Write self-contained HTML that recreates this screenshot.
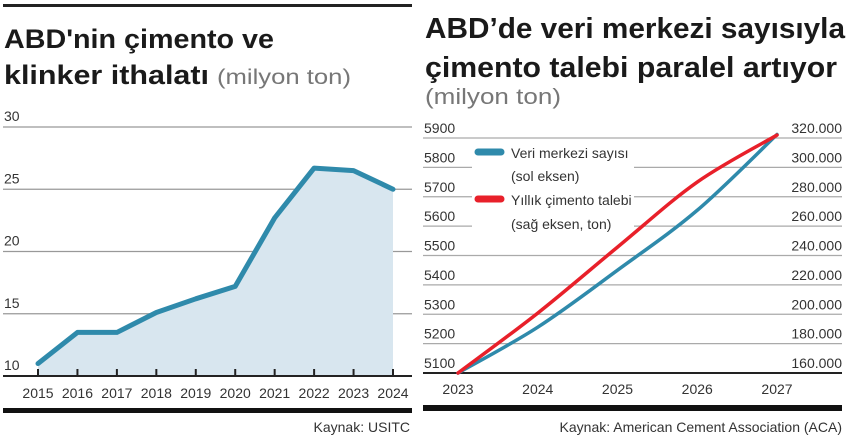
<!DOCTYPE html>
<html><head><meta charset="utf-8"><style>
html,body{margin:0;padding:0;background:#fff;}
svg{display:block;font-family:"Liberation Sans",sans-serif;}
.tick{font-family:"Liberation Sans Narrow","Liberation Sans",sans-serif;font-size:14px;fill:#333;}
.ttl{font-weight:bold;fill:#1a1a1a;}
</style></head><body>
<svg id="c" width="850" height="442" viewBox="0 0 850 442">
<rect x="3" y="4" width="409" height="3" fill="#222"/>
<text class="ttl" x="4" y="48" font-size="27" textLength="270" lengthAdjust="spacingAndGlyphs">ABD'nin çimento ve</text>
<text class="ttl" x="4" y="84" font-size="27" textLength="205" lengthAdjust="spacingAndGlyphs">klinker ithalatı</text>
<text x="217" y="84" font-size="21" fill="#777" textLength="134" lengthAdjust="spacingAndGlyphs">(milyon ton)</text>
<text class="ttl" x="425" y="38" font-size="29" textLength="420" lengthAdjust="spacingAndGlyphs">ABD’de veri merkezi sayısıyla</text>
<text class="ttl" x="425" y="77" font-size="29" textLength="412" lengthAdjust="spacingAndGlyphs">çimento talebi paralel artıyor</text>
<text x="425" y="104" font-size="22" fill="#777" textLength="136" lengthAdjust="spacingAndGlyphs">(milyon ton)</text>
<g id="left"></g>
<g id="right"></g>
</svg>
<script>
const leftYears=[2015,2016,2017,2018,2019,2020,2021,2022,2023,2024];
const leftValues=[11.0,13.5,13.5,15.1,16.2,17.2,22.7,26.7,26.5,25.0];
const leftTicks=[10,15,20,25,30];
const rightYears=[2023,2024,2025,2026,2027];
const dataCenters=[5100,5256,5450,5654,5912];
const cementDemand=[160000,200800,245700,290000,322000];
const rightLeftTicks=[5100,5200,5300,5400,5500,5600,5700,5800,5900];
const rightRightTicks=[160000,180000,200000,220000,240000,260000,280000,300000,320000];
const NS='http://www.w3.org/2000/svg';
function mk(p,tag,at){const e=document.createElementNS(NS,tag);for(const k in at)e.setAttribute(k,at[k]);p.appendChild(e);return e;}
// LEFT
const L=document.getElementById('left');
const lx=i=>38+i*(393-38)/(leftYears.length-1);
const ly=v=>376-(v-10)*(376-127)/20;
leftTicks.forEach(t=>{
 if(t>10){const g=mk(L,'line',{x1:3,x2:412,y1:ly(t),y2:ly(t),stroke:'#999','stroke-width':1.3});
 
 }
 const tx=mk(L,'text',{x:4,y:ly(t)-6,class:'tick'});tx.textContent=t;
 
 
});
let pts=leftValues.map((v,i)=>lx(i)+','+ly(v));
const area=mk(L,'polygon',{points:lx(0)+','+ly(10)+' '+pts.join(' ')+' '+lx(leftValues.length-1)+','+ly(10),fill:'#d8e6ef'});


const ax=mk(L,'line',{x1:3,x2:412,y1:376,y2:376,stroke:'#222','stroke-width':2});


leftYears.forEach((y,i)=>{
 const tk=mk(L,'line',{x1:lx(i),x2:lx(i),y1:369,y2:376,stroke:'#222','stroke-width':2});
 
 
 const t=mk(L,'text',{x:lx(i),y:398,class:'tick','text-anchor':'middle'});t.textContent=y;
 
 
});
const ln=mk(L,'polyline',{points:pts.join(' '),fill:'none',stroke:'#2f8aab','stroke-width':5,'stroke-linejoin':'round','stroke-linecap':'round'});


const lb=mk(L,'rect',{x:3,y:408,width:409,height:5,fill:'#111'});


const ls=mk(L,'text',{x:410,y:432,class:'tick','text-anchor':'end'});ls.textContent='Kaynak: USITC';


// RIGHT
const R=document.getElementById('right');
const rx=i=>458+i*(777-458)/(rightYears.length-1);
const ryl=v=>373-(v-5100)*(373-138)/800;
const ryr=v=>373-(v-160000)*(373-138)/160000;
rightLeftTicks.forEach(t=>{
 const y=ryl(t);
 if(t>5100){const g=mk(R,'line',{x1:423,x2:842,y1:y,y2:y,stroke:'#aaa','stroke-width':1.3});
 
 }
 const tx=mk(R,'text',{x:424,y:y-5,class:'tick'});tx.textContent=t;
 
 
});
rightRightTicks.forEach(t=>{
 const tx=mk(R,'text',{x:842,y:ryr(t)-5,class:'tick','text-anchor':'end'});tx.textContent=t.toLocaleString('de-DE');
 
 
});
const wb=mk(R,'rect',{x:472,y:140,width:162,height:96,fill:'#fff'});


const rax=mk(R,'line',{x1:423,x2:842,y1:373,y2:373,stroke:'#222','stroke-width':2});


rightYears.forEach((y,i)=>{
 const t=mk(R,'text',{x:rx(i),y:394,class:'tick','text-anchor':'middle'});t.textContent=y;
 
 
});
function smooth(p){let d='M'+p[0][0]+','+p[0][1];for(let i=0;i<p.length-1;i++){const a=p[i-1]||p[i],b=p[i],c=p[i+1],e=p[i+2]||c;
 d+=' C'+(b[0]+(c[0]-a[0])/6)+','+(b[1]+(c[1]-a[1])/6)+' '+(c[0]-(e[0]-b[0])/6)+','+(c[1]-(e[1]-b[1])/6)+' '+c[0]+','+c[1];}return d;}
const bl=mk(R,'path',{d:smooth(dataCenters.map((v,i)=>[rx(i),ryl(v)])),fill:'none',stroke:'#2f8aab','stroke-width':3.5,'stroke-linecap':'round'});


const rl=mk(R,'path',{d:smooth(cementDemand.map((v,i)=>[rx(i),ryr(v)])),fill:'none',stroke:'#e8202a','stroke-width':3.5,'stroke-linecap':'round'});


const lg1=mk(R,'line',{x1:478,x2:501,y1:152,y2:152,stroke:'#2f8aab','stroke-width':7,'stroke-linecap':'round'});


const lg2=mk(R,'line',{x1:478,x2:501,y1:199,y2:199,stroke:'#e8202a','stroke-width':7,'stroke-linecap':'round'});


[['Veri merkezi sayısı',158],['(sol eksen)',181],['Yıllık çimento talebi',205],['(sağ eksen, ton)',229]].forEach(([s,y])=>{
 const t=mk(R,'text',{x:511,y:y,class:'tick'});t.textContent=s;
 
 
});
const rb=mk(R,'rect',{x:423,y:405,width:419,height:6,fill:'#111'});


const rs=mk(R,'text',{x:842,y:432,class:'tick','text-anchor':'end'});rs.textContent='Kaynak:  American Cement Association (ACA)';


</script>
</body></html>
